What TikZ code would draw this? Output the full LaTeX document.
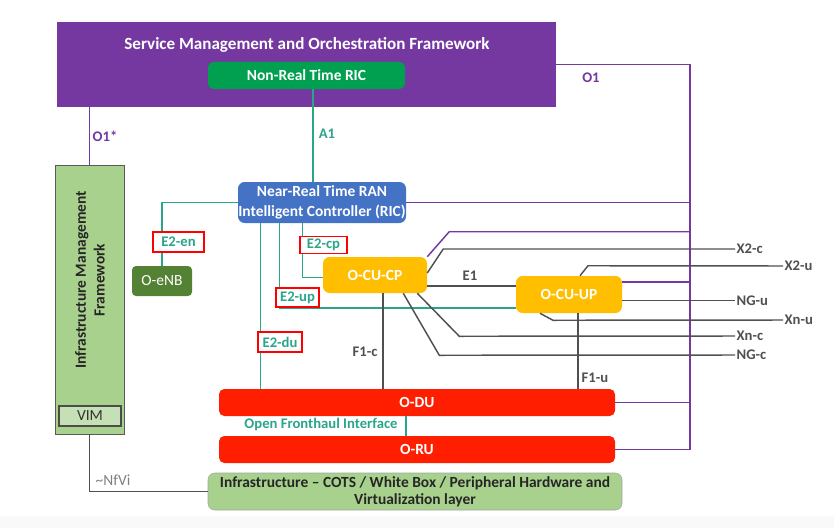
\documentclass[tikz,border=0pt]{standalone}
\usepackage{fontspec}
\setmainfont{Carlito}
\usepackage{tikz}
\usetikzlibrary{calc}
\definecolor{SmoPurple}{HTML}{7438A0}
\definecolor{NrtGreen}{HTML}{00A050}
\definecolor{RicBlue}{HTML}{4472C4}
\definecolor{CuOrange}{HTML}{FFBE00}
\definecolor{DuRed}{HTML}{FF1E00}
\definecolor{InfraGreen}{HTML}{A9D18E}
\definecolor{VimGreen}{HTML}{C5E0B4}
\definecolor{EnbGreen}{HTML}{548235}
\definecolor{LinkTeal}{HTML}{2BA58A}
\definecolor{LinkGray}{HTML}{505050}

\tikzset{
  box/.style={inner sep=0pt, align=center, text=white,
    font=\bfseries\fontsize{11.6}{15}\selectfont},
  lbl/.style={inner sep=1pt, font=\bfseries\fontsize{11}{12}\selectfont},
  e2lbl/.style={lbl, text=LinkTeal, draw=red, line width=1.2pt, fill=white, inner sep=2pt},
  o1line/.style={SmoPurple, line width=1.1pt},
  e2line/.style={LinkTeal, line width=1.1pt},
  ifline/.style={LinkGray, line width=1.1pt}
}

\begin{document}
\begin{tikzpicture}[x=0.75pt, y=-0.75pt]
  \fill[white] (0,0) rectangle (834,528);
  \fill[gray!5] (0,516) rectangle (834,528);

  % boxes
  \node[box, fill=SmoPurple, minimum width=374.25pt, minimum height=63.75pt] (smo) at (306.5,64.5) {};
  \node[box, font=\bfseries\fontsize{12.8}{15}\selectfont] (smotitle) at (307,45) {Service Management and Orchestration Framework};
  \node[box, rounded corners=4pt, fill=NrtGreen, minimum width=147.75pt, minimum height=20.25pt] (nrt) at (306.5,75.5) {Non-Real Time RIC};
  \node[box, rounded corners=5pt, fill=RicBlue, minimum width=126pt, minimum height=30.75pt] (ric) at (322,202.5) {Near-Real Time RAN\\Intelligent Controller (RIC)};
  \node[box, fill=InfraGreen, draw=gray!70!black, minimum width=51.75pt, minimum height=201.75pt] (imf) at (89.5,299.5) {};
  \node[box, text=black!85, rotate=90, font=\bfseries\fontsize{11.6}{14}\selectfont] (imftext) at (90,280) {Infrastructure Management\\Framework};
  \node[box, fill=VimGreen, draw=black!70, line width=0.8pt, text=black!80, font=\fontsize{11.6}{13}\selectfont, minimum width=46.5pt, minimum height=15pt] (vim) at (90,416) {VIM};
  \node[box, rounded corners=3pt, fill=EnbGreen, font=\fontsize{11.6}{13}\selectfont, minimum width=45pt, minimum height=22.5pt] (enb) at (162,281) {O-eNB};
  \node[box, rounded corners=5pt, fill=CuOrange, minimum width=78pt, minimum height=27pt] (cucp) at (375,275) {O-CU-CP};
  \node[box, rounded corners=5pt, fill=CuOrange, minimum width=79.5pt, minimum height=27.75pt] (cuup) at (569,294.5) {O-CU-UP};
  \node[box, rounded corners=4pt, fill=DuRed, minimum width=297pt, minimum height=20.25pt] (odu) at (417,402.5) {O-DU};
  \node[box, rounded corners=4pt, fill=DuRed, minimum width=297pt, minimum height=20.25pt] (oru) at (417,449.5) {O-RU};
  \node[box, rounded corners=5pt, fill=InfraGreen, draw=gray!70, text=black!85, font=\bfseries\fontsize{11.6}{12.75}\selectfont, minimum width=310.5pt, minimum height=27.75pt] (infra) at (415,491.5) {Infrastructure -- COTS / White Box / Peripheral Hardware and\\Virtualization layer};

  % interface ends
  \node[lbl, text=LinkGray, anchor=west] (x2c) at (735,249) {X2-c};
  \node[lbl, text=LinkGray, anchor=west] (x2u) at (783,266) {X2-u};
  \node[lbl, text=LinkGray, anchor=west] (ngu) at (735,300.5) {NG-u};
  \node[lbl, text=LinkGray, anchor=west] (xnu) at (783,320) {Xn-u};
  \node[lbl, text=LinkGray, anchor=west] (xnc) at (735,336) {Xn-c};
  \node[lbl, text=LinkGray, anchor=west] (ngc) at (735,355) {NG-c};
  \coordinate (o1x) at (690,65);

  % O1
  \draw[o1line] (smo.east) -- (smo.east -| o1x) -- (oru.east -| o1x) -- (oru.east);
  \draw[o1line] (ric.east) -- (ric.east -| o1x);
  \draw[o1line] (cucp.north east) -- ++(22,-25) coordinate (cpo1) -- (cpo1 -| o1x);
  \draw[o1line] ($(cuup.east)+(0,-12.5)$) coordinate (upo1) -- (upo1 -| o1x);
  \draw[o1line] (odu.east) -- (odu.east -| o1x);
  \draw[o1line] (imf.north |- smo.south) -- (imf.north);

  % A1 / E2 / fronthaul
  \draw[e2line] ($(nrt.south)+(6.5,0)$) -- ($(ric.north)+(-9,0)$);
  \draw[e2line] (enb.north) |- (ric.west);
  \draw[e2line] ($(ric.south west)+(23,0)$) coordinate (du0) -- (du0 |- odu.north);
  \draw[e2line] ($(ric.south west)+(42,0)$) |- ($(cuup.west)+(0,13.5)$);
  \draw[e2line] ($(ric.south west)+(65,0)$) |- ($(cucp.west)+(0,2.5)$);
  \draw[e2line] ($(odu.south)+(-11,0)$) coordinate (fh0) -- (fh0 |- oru.north);

  % 3GPP interfaces
  \draw[ifline] ($(cucp.east)+(0,11)$) coordinate (e1a) -- (e1a -| cuup.west);
  \draw[ifline] ($(cucp.east)+(0,-2)$) -- ++(16,-24) -- (x2c.west);
  \draw[ifline] ($(cuup.north)+(11,0)$) -- ++(8,-10) -- (x2u.west);
  \draw[ifline] ($(cuup.east)+(0,6)$) -- (ngu.west);
  \draw[ifline] ($(cuup.south)+(-29,0)$) -- ++(13,7) -- (xnu.west);
  \draw[ifline] ($(cucp.south east)+(-10,0)$) -- ++(42,43) -- (xnc.west);
  \draw[ifline] ($(cucp.south east)+(-24,0)$) -- ++(36,62) -- (ngc.west);
  \draw[ifline] ($(cucp.south)+(8,0)$) coordinate (f1c) -- (f1c |- odu.north);
  \draw[ifline] ($(cuup.south)+(9,0)$) coordinate (f1u) -- (f1u |- odu.north);
  \draw[ifline] (imf.south) |- (infra.west);

  % labels
  \node[lbl, text=SmoPurple] (o1lbl) at (591,78) {O1};
  \node[lbl, text=SmoPurple] (o1slbl) at (105,136) {O1*};
  \node[lbl, text=LinkTeal] (a1lbl) at (327,134) {A1};
  \node[lbl, text=LinkGray] (e1lbl) at (470,276) {E1};
  \node[lbl, text=LinkGray] (f1clbl) at (365,352) {F1-c};
  \node[lbl, text=LinkGray] (f1ulbl) at (595,378) {F1-u};
  \node[lbl, text=gray, font=\fontsize{11.6}{12}\selectfont] (nfvilbl) at (113,480) {\textasciitilde NfVi};
  \node[lbl, text=LinkTeal] (fhlbl) at (321,425) {Open Fronthaul Interface};
  \node[e2lbl, minimum width=38.25pt, minimum height=15pt] (e2en) at (178.5,242) {E2-en};
  \node[e2lbl, minimum width=35.25pt, minimum height=12pt] (e2cp) at (323.5,245) {E2-cp};
  \node[e2lbl, minimum width=32.25pt, minimum height=14.25pt] (e2up) at (297.5,297.5) {E2-up};
  \node[e2lbl, minimum width=33pt, minimum height=15pt] (e2du) at (280,342) {E2-du};
\end{tikzpicture}
\end{document}
